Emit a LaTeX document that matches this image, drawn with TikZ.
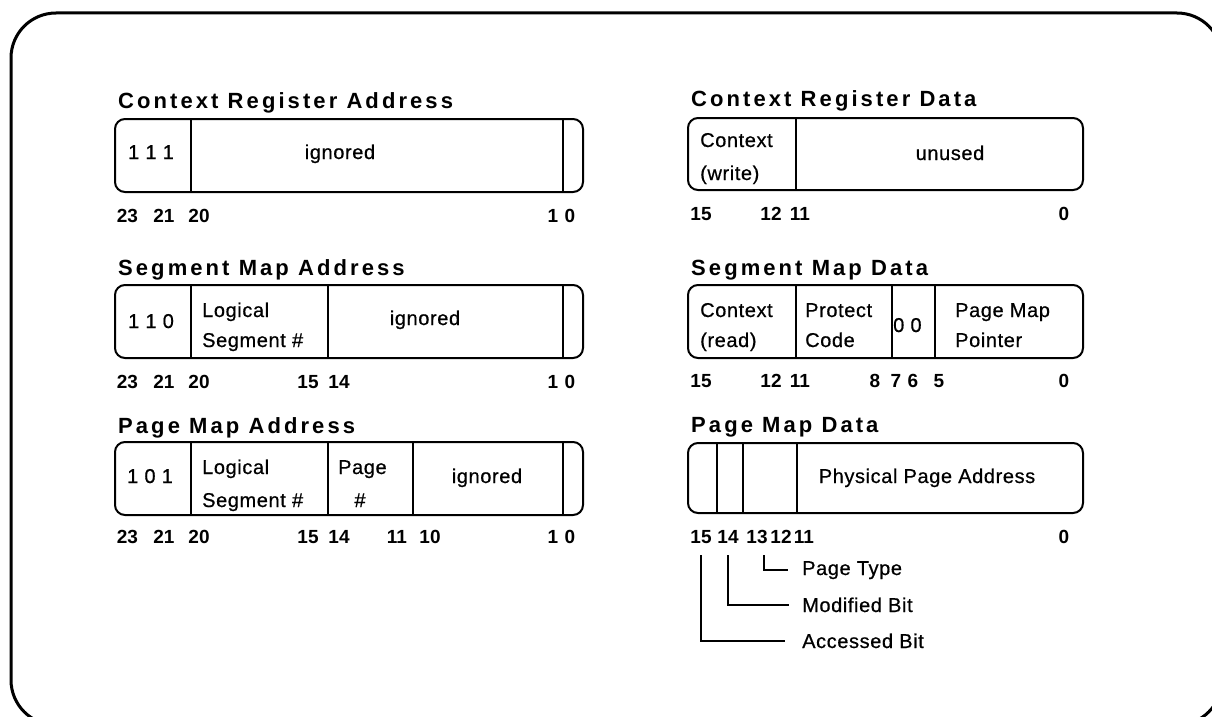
\documentclass[tikz,border=0pt]{standalone}
\usepackage{fontspec}
\setmainfont{Liberation Sans}
\newfontfamily\titlefont{Liberation Sans}[LetterSpace=14]
\newfontfamily\bodyfont{Liberation Sans}[LetterSpace=3,FakeBold=0.6]
\newfontfamily\numfont{Liberation Sans}
\tikzset{
  ttl/.style={anchor=base west, inner sep=0pt, font=\titlefont\bfseries\fontsize{22}{24}\selectfont},
  txt/.style={anchor=base west, inner sep=0pt, font=\bodyfont\fontsize{20}{24}\selectfont},
  ctxt/.style={anchor=base, inner sep=0pt, font=\bodyfont\fontsize{20}{24}\selectfont},
  num/.style={anchor=base, inner sep=0pt, font=\numfont\bfseries\fontsize{19}{22}\selectfont},
  reg/.style={draw, line width=2pt, rounded corners=10pt},
  div/.style={line width=2pt},
  lead/.style={line width=2pt},
  frame/.style={line width=3pt, rounded corners=45pt}
}
\begin{document}
\begin{tikzpicture}[x=1pt,y=-1pt]
\useasboundingbox (0,0) rectangle (1212,717);
\begin{scope}
  \clip (0,0) rectangle (1212,717);
  \draw[frame] (11,13) rectangle (1222,725);
\end{scope}

% ---------- Context Register Address ----------
\node[ttl] (tcra) at (118,108) {Context Register Address};
\draw[reg] (115,119) rectangle (583,192);
\draw[div] (191,119) -- (191,192) (563,119) -- (563,192);
\node[txt] (cra1) at (128,159) {1 1 1};
\node[ctxt] (cra2) at (340,159) {ignored};
\foreach \t/\x [count=\k] in {23/127.5,21/164,20/199,1/553,0/570}
  \node[num, name=ncra\k] at (\x,222) {\t};

% ---------- Segment Map Address ----------
\node[ttl] (tsma) at (118,275) {Segment Map Address};
\draw[reg] (115,285) rectangle (583,358);
\draw[div] (191,285) -- (191,358) (328,285) -- (328,358) (563,285) -- (563,358);
\node[txt] (sma1) at (128,328) {1 1 0};
\node[txt] (sma2) at (202,317) {Logical};
\node[txt] (sma3) at (202,347) {Segment \#};
\node[ctxt] (sma4) at (425,325) {ignored};
\foreach \t/\x [count=\k] in {23/127.5,21/164,20/199,15/308,14/339,1/553,0/570}
  \node[num, name=nsma\k] at (\x,388) {\t};

% ---------- Page Map Address ----------
\node[ttl] (tpma) at (118,433) {Page Map Address};
\draw[reg] (115,442) rectangle (583,515);
\draw[div] (191,442) -- (191,515) (328,442) -- (328,515) (413,442) -- (413,515) (563,442) -- (563,515);
\node[txt] (pma1) at (127,483) {1 0 1};
\node[txt] (pma2) at (202,474) {Logical};
\node[txt] (pma3) at (202,507) {Segment \#};
\node[txt] (pma4) at (338,474) {Page};
\node[ctxt] (pma5) at (360,507) {\#};
\node[ctxt] (pma6) at (487,483) {ignored};
\foreach \t/\x [count=\k] in {23/127.5,21/164,20/199,15/308,14/339,11/397,10/430,1/553,0/570}
  \node[num, name=npma\k] at (\x,543) {\t};

% ---------- Context Register Data ----------
\node[ttl] (tcrd) at (691,106) {Context Register Data};
\draw[reg] (688,118) rectangle (1083,190);
\draw[div] (796,118) -- (796,190);
\node[txt] (crd1) at (700,147) {Context};
\node[txt] (crd2) at (700,180) {(write)};
\node[ctxt] (crd3) at (950,160) {unused};
\foreach \t/\x [count=\k] in {15/701,12/771,11/800,0/1064}
  \node[num, name=ncrd\k] at (\x,220) {\t};

% ---------- Segment Map Data ----------
\node[ttl] (tsmd) at (691,275) {Segment Map Data};
\draw[reg] (688,285) rectangle (1083,358);
\draw[div] (796,285) -- (796,358) (892,285) -- (892,358) (935,285) -- (935,358);
\node[txt] (smd1) at (700,317) {Context};
\node[txt] (smd2) at (700,347) {(read)};
\node[txt] (smd3) at (805,317) {Protect};
\node[txt] (smd4) at (805,347) {Code};
\node[txt] (smd5) at (893,332) {0 0};
\node[txt] (smd6) at (955,317) {Page Map};
\node[txt] (smd7) at (955,347) {Pointer};
\foreach \t/\x [count=\k] in {15/701,12/771,11/800,8/875,7/896,6/913,5/939,0/1064}
  \node[num, name=nsmd\k] at (\x,387) {\t};

% ---------- Page Map Data ----------
\node[ttl] (tpmd) at (691,432) {Page Map Data};
\draw[reg] (688,443) rectangle (1083,513);
\draw[div] (717,443) -- (717,513) (743,443) -- (743,513) (797,443) -- (797,513);
\node[ctxt] (pmd1) at (927,483) {Physical Page Address};
\foreach \t/\x [count=\k] in {15/701,14/728,13/757,12/781,11/804,0/1064}
  \node[num, name=npmd\k] at (\x,543) {\t};

\node[txt] (ptype) at (802,575) {Page Type};
\node[txt] (modb) at (802,612) {Modified Bit};
\node[txt] (accb) at (802,648) {Accessed Bit};
\coordinate (lpt) at (764,555);
\coordinate (lmb) at (728,555);
\coordinate (lab) at (701,555);
\draw[lead] (lpt) |- ([xshift=-14pt]ptype.west);
\draw[lead] (lmb) |- ([xshift=-13pt]modb.west);
\draw[lead] (lab) |- ([xshift=-17pt]accb.west);
\end{tikzpicture}
\end{document}
